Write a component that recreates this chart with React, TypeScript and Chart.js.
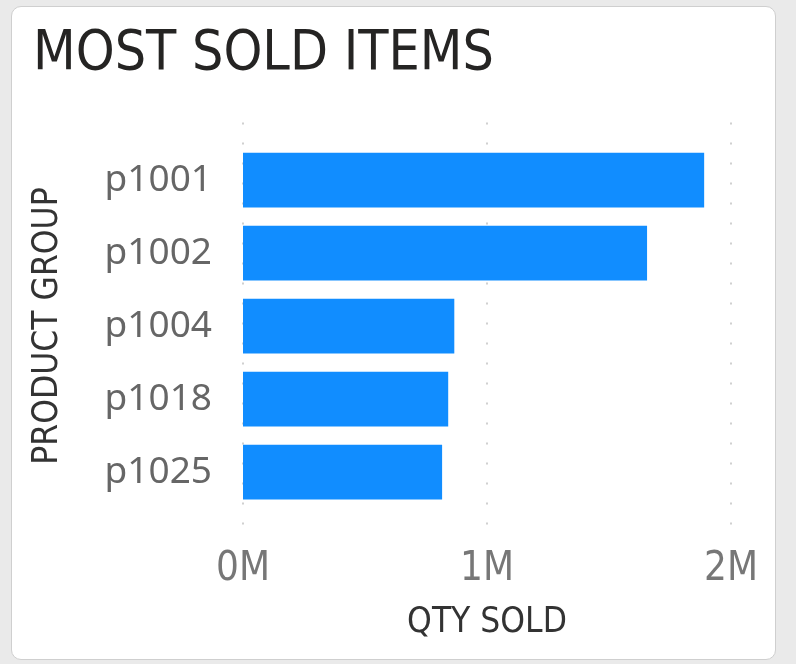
import React, { useEffect, useRef } from "react";
import { Chart, registerables } from "chart.js";

Chart.register(...registerables);

const categories = ["p1001", "p1002", "p1004", "p1018", "p1025"];
const qtySold = [1890000, 1656000, 866000, 841000, 816000];
const xTicks = [0, 1000000, 2000000];

const condensed = "'DejaVu Sans Condensed', 'Liberation Sans Narrow', 'DejaVu Sans', sans-serif";

const dottedGrid = {
  id: "dottedGrid",
  beforeDatasetsDraw(chart: any) {
    const { ctx, chartArea, scales } = chart;
    const x = scales.x;
    ctx.save();
    ctx.strokeStyle = "#d0d0d0";
    ctx.lineWidth = 2;
    ctx.setLineDash([2, 18]);
    xTicks.forEach((v) => {
      const px = Math.round(x.getPixelForValue(v));
      ctx.beginPath();
      ctx.moveTo(px, chartArea.top - 21);
      ctx.lineTo(px, chartArea.bottom + 24);
      ctx.stroke();
    });
    ctx.restore();
  },
};

export default function App() {
  const ref = useRef<HTMLCanvasElement | null>(null);

  useEffect(() => {
    if (!ref.current) return;
    const chart = new Chart(ref.current, {
      type: "bar",
      data: {
        labels: categories,
        datasets: [
          {
            data: qtySold,
            backgroundColor: "#118DFF",
            barPercentage: 0.75,
            categoryPercentage: 1,
          },
        ],
      },
      plugins: [dottedGrid],
      options: {
        indexAxis: "y",
        animation: false,
        responsive: false,
        events: [],
        layout: { padding: { top: 136.5, left: 0, right: 44, bottom: 0 } },
        plugins: {
          legend: { display: false },
          tooltip: { enabled: false },
          title: { display: false },
        },
        scales: {
          x: {
            type: "linear",
            min: 0,
            max: 2000000,
            afterBuildTicks(scale: any) {
              scale.ticks = xTicks.map((v) => ({ value: v }));
            },
            afterFit(scale: any) {
              scale.height = 150.5;
              scale.paddingLeft = 0;
              scale.paddingRight = 0;
            },
            grid: { display: false, drawTicks: false },
            border: { display: false },
            ticks: {
              padding: 37,
              color: "#777777",
              font: { family: condensed, size: 40 },
              callback: (v: any) => `${Number(v) / 1000000}M`,
            },
            title: {
              display: true,
              text: "QTY SOLD",
              color: "#333333",
              font: { family: condensed, size: 35 },
              padding: { top: 0, bottom: 15 },
            },
          },
          y: {
            afterFit(scale: any) {
              scale.width = 231;
              scale.paddingTop = 0;
              scale.paddingBottom = 0;
            },
            grid: { display: false, drawTicks: false },
            border: { display: false },
            ticks: {
              padding: 31,
              color: "#666666",
              font: { family: "'Segoe UI', 'Noto Sans', sans-serif", size: 37 },
            },
            title: {
              display: true,
              text: "PRODUCT GROUP",
              color: "#333333",
              font: { family: condensed, size: 35 },
              padding: { top: 15, bottom: 0 },
            },
          },
        },
      },
    });
    return () => chart.destroy();
  }, []);

  return (
    <div style={{ position: "fixed", inset: 0, background: "#eaeaea" }}>
      <div
        style={{
          position: "absolute",
          left: 11,
          top: 6,
          width: 765,
          height: 654,
          boxSizing: "border-box",
          border: "1px solid #cfcfcf",
          borderRadius: 10,
          background: "#ffffff",
          overflow: "hidden",
        }}
      >
        <div
          style={{
            position: "absolute",
            left: 21,
            top: 10,
            fontFamily: condensed,
            fontSize: 55,
            lineHeight: "66px",
            color: "#252423",
            whiteSpace: "nowrap",
          }}
        >
          MOST SOLD ITEMS
        </div>
        <canvas ref={ref} width={763} height={652} style={{ position: "absolute", left: 0, top: 0 }} />
      </div>
    </div>
  );
}
